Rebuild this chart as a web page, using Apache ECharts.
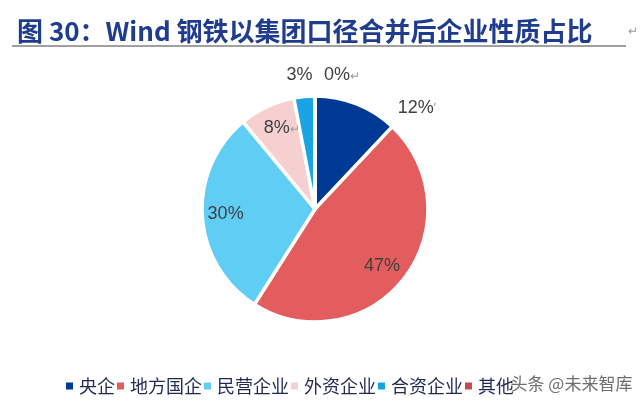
<!DOCTYPE html>
<html>
<head>
<meta charset="utf-8">
<title>Wind 钢铁以集团口径合并后企业性质占比</title>
<script src="https://cdn.jsdelivr.net/npm/echarts@6/dist/echarts.min.js"></script>
<style>
  html, body { margin: 0; padding: 0; background: #ffffff; }
  #chart { width: 640px; height: 411px; }
</style>
</head>
<body>
<div id="chart"></div>
<script>
// Ownership categories and their share (%) of the merged steel groups
const categories = ['央企', '地方国企', '民营企业', '外资企业', '合资企业', '其他'];
const shares = [12, 47, 30, 8, 3, 0];
const sliceColors = ['#003A94', '#E35D5E', '#60CDF5', '#F6D0D1', '#19A4E4', '#C0504D'];
// Trailing paragraph marks that appear after some labels
const labelMarks = ['ʼ', '', '', '↵', '', '↵'];
// Per-slice nudges of the value labels
const labelOffsets = [[80, -46], [20, 21], [-30, 1], [-8, -27], [-10, -75], [27, -74]];

const chart = echarts.init(document.getElementById('chart'), null, { renderer: 'canvas' });

const fontFamily = '"Noto Sans CJK SC", "Noto Sans", sans-serif';

const data = categories.map((name, i) => ({
  name: name,
  value: shares[i],
  itemStyle: { color: sliceColors[i] },
  label: {
    offset: labelOffsets[i],
    formatter: () => '{v|' + shares[i] + '%}' + (labelMarks[i] ? '{m|' + labelMarks[i] + '}' : '')
  }
}));

chart.setOption({
  backgroundColor: '#ffffff',
  animation: false,
  title: {
    text: '图 30：Wind 钢铁以集团口径合并后企业性质占比',
    left: 12,
    top: 13,
    textStyle: {
      fontFamily: fontFamily,
      fontSize: 26,
      fontWeight: 'bold',
      color: '#1F3C8F'
    }
  },
  legend: {
    data: categories,
    left: 64,
    top: 377,
    padding: 0,
    icon: 'rect',
    itemWidth: 9,
    itemHeight: 9,
    itemGap: 0,
    textStyle: {
      fontFamily: fontFamily,
      fontSize: 18,
      color: '#1F2A55'
    }
  },
  graphic: [
    {
      type: 'line',
      shape: { x1: 12, y1: 46, x2: 626, y2: 46 },
      style: { stroke: '#808080', lineWidth: 1.5 },
      silent: true
    },
    {
      type: 'text',
      left: 628,
      top: 24,
      style: { text: '↵', fill: '#9a9a9a', font: '12px ' + fontFamily }
    },
    {
      type: 'text',
      left: 510,
      top: 375,
      z: 100,
      style: {
        text: '头条 @未来智库',
        fill: '#6e6e6e',
        font: '17px ' + fontFamily,
        stroke: '#ffffff',
        lineWidth: 1
      }
    }
  ],
  series: [
    {
      type: 'pie',
      center: [315, 209],
      radius: [0, 113],
      startAngle: 90,
      clockwise: true,
      avoidLabelOverlap: false,
      minShowLabelAngle: 0,
      itemStyle: { borderColor: '#ffffff', borderWidth: 3.5 },
      label: {
        show: true,
        position: 'inside',
        rich: {
          v: { fontFamily: 'Arial, "Liberation Sans", sans-serif', fontSize: 18, color: '#404040' },
          m: { fontFamily: fontFamily, fontSize: 12, color: '#9a9a9a' }
        }
      },
      labelLine: { show: false },
      emphasis: { disabled: true },
      data: data
    }
  ]
});
</script>
</body>
</html>
